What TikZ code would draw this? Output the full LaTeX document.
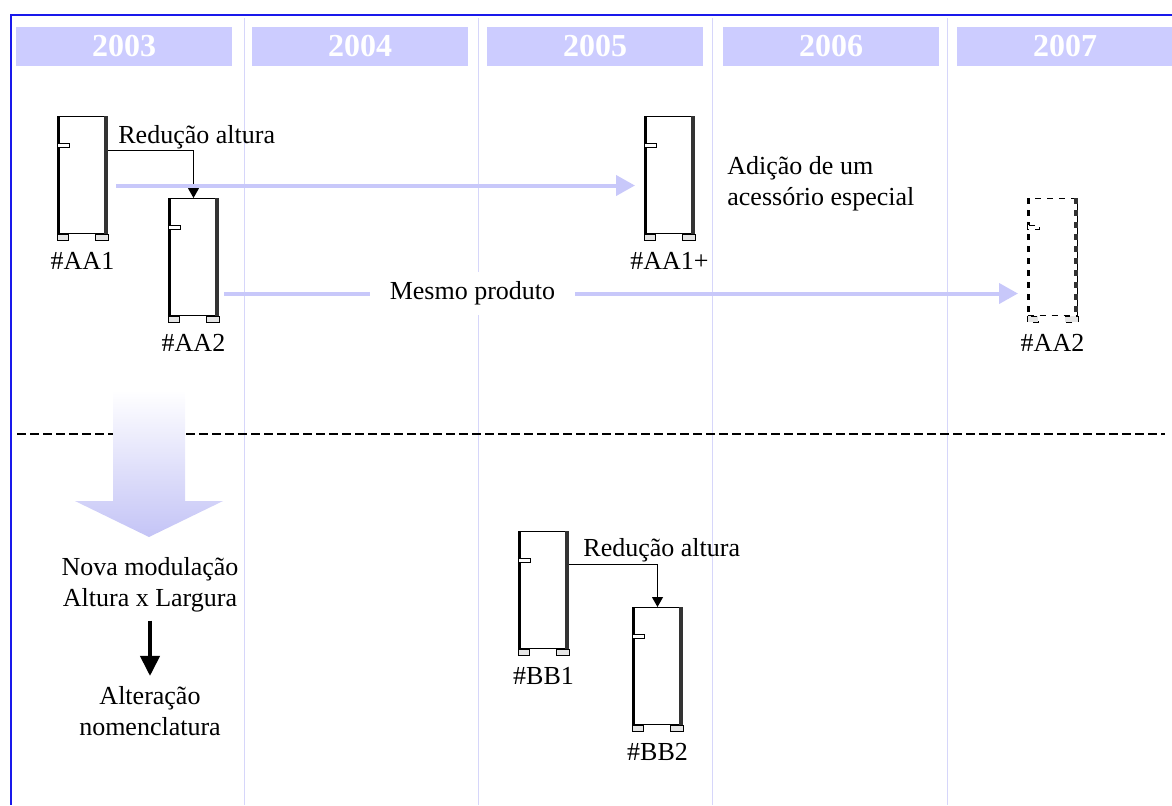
\documentclass[tikz,border=0pt]{standalone}
\usepackage{fontspec}
\setmainfont{Liberation Serif}
\usetikzlibrary{positioning,arrows.meta}
\definecolor{frameblue}{RGB}{25,25,235}
\definecolor{yearfill}{RGB}{204,204,255}
\definecolor{colline}{RGB}{214,214,250}
\definecolor{flowblue}{RGB}{200,200,250}
\definecolor{bigflow}{RGB}{196,196,246}
\tikzset{
  x=0.5pt, y=-0.5pt,
  note/.style={font=\fontsize{13}{15.5}\selectfont, inner sep=2pt},
  tag/.style={font=\fontsize{13}{15.5}\selectfont, inner sep=1pt},
  yearbar/.style={fill=yearfill, minimum width=108pt, minimum height=19.5pt,
    inner sep=0pt, text=white, font=\fontsize{16}{18}\selectfont\bfseries},
  colsep/.style={draw=colline, line width=0.5pt},
  cabinet body/.style={draw, line width=0.5pt, minimum width=25pt,
    minimum height=58.5pt, inner sep=0pt, anchor=north west},
  cabinet side/.style={line width=1.5pt},
  cabinet thin/.style={line width=0.5pt},
  reduce/.style={line width=0.5pt, -{Triangle[length=5pt,width=5.5pt]}},
  flow/.style={draw=flowblue, line width=2pt,
    -{Triangle[length=9.5pt,width=10pt,fill=flowblue]}},
}
% cabinet: [style] {name} {top left} {label}
\newcommand{\cabinet}[4][]{%
  \node[cabinet body,#1] (#2) at (#3) {};
  \draw[cabinet side,#1] ([xshift=0.75pt]#2.north west) -- ([xshift=0.75pt]#2.south west);
  \draw[cabinet side,line width=2pt,black!80,#1] ([xshift=-1.1pt]#2.north east) -- ([xshift=-1.1pt]#2.south east);
  \draw[cabinet thin,#1,fill=white] ([yshift=-13.5pt]#2.north west) rectangle ++(6pt,-2pt);
  \draw[cabinet thin,#1,fill=black!10] (#2.south west) rectangle ++(5.5pt,-3pt);
  \draw[cabinet thin,#1,fill=black!10] (#2.south east) rectangle ++(-6.5pt,-3pt);
  \node[tag,below=8pt of #2.south] (#2-tag) {#4};
}
\begin{document}
\begin{tikzpicture}
\useasboundingbox (0,0) rectangle (1172,805);
% columns and years
\foreach \sx in {244,478,712,947}
  \draw[colsep] (\sx,18) -- (\sx,805);
\foreach \yr/\cx in {2003/124,2004/360,2005/595,2006/831,2007/1065}
  \node[yearbar] (y\yr) at (\cx,46.5) {\yr};
\draw[frameblue, line width=1pt] (1172,15) -- (11,15) -- (11,805);
% upper line of products
\cabinet{aa1}{57,116}{\#AA1}
\cabinet{aa2}{168,198}{\#AA2}
\cabinet{aa1p}{644,116}{\#AA1+}
\cabinet[dashed]{aa2b}{1027,198}{\#AA2}
\draw[reduce] ([yshift=-17pt]aa1.north east) -| (aa2.north);
\node[note, anchor=base west] (redA) at ([xshift=3pt,yshift=-13.5pt]aa1.north east) {Redução altura};
\draw[flow] ([xshift=4pt,yshift=-5.25pt]aa1.east) -- ([xshift=-4.5pt,yshift=-5.25pt]aa1p.west);
\node[note, anchor=west, align=left] (extra) at (723,184) {Adição de um\\acessório especial};
\draw[flow] ([xshift=2.5pt,yshift=-18.25pt]aa2.east)
  -- node[pos=0.313, note, fill=white, inner xsep=10pt, inner ysep=5pt] (same) {Mesmo produto}
  ([xshift=-4.5pt,yshift=-18.25pt]aa2b.west);
% split
\draw[line width=0.8pt, dash pattern=on 4.5pt off 2pt] (17,434) -- (1165,434);
\shade[top color=white, bottom color=bigflow]
  (113,390) -- (185,390) -- (185,501) -- (223,501) -- (149,537) -- (75,501) -- (113,501) -- cycle;
\node[note, align=center] (nova) at (150,585) {Nova modulação\\Altura x Largura};
\node[note, align=center] (alt) at (150,711) {Alteração\\nomenclatura};
\draw[line width=2pt, -{Triangle[length=10pt,width=9.5pt]}] ([yshift=-2pt]nova.south) -- ([yshift=3pt]alt.north);
% lower line of products
\cabinet{bb1}{518,531}{\#BB1}
\cabinet{bb2}{632,607}{\#BB2}
\draw[reduce] ([yshift=-16.5pt]bb1.north east) -| (bb2.north);
\node[note, anchor=base west] (redB) at ([xshift=5pt,yshift=-12.5pt]bb1.north east) {Redução altura};
\end{tikzpicture}
\end{document}
